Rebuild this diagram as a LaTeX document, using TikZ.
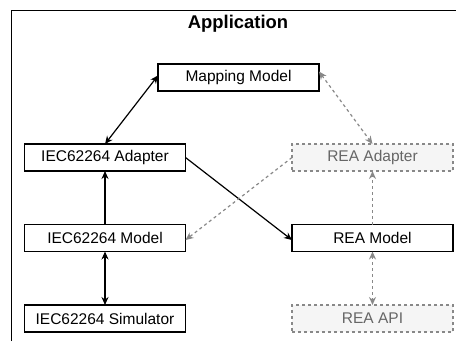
\documentclass[tikz,border=0pt]{standalone}
\usepackage{fontspec}
\setmainfont{Liberation Sans}
\usetikzlibrary{arrows.meta}
\definecolor{ghostline}{HTML}{888888}
\definecolor{ghosttext}{HTML}{666666}
\definecolor{ghostfill}{HTML}{F5F5F5}
\begin{document}
\begin{tikzpicture}[x=1pt,y=-1pt,inner sep=0pt,outer sep=0pt,
  box/.style={draw,line width=1.2pt,minimum width=161pt,minimum height=27pt,font=\fontsize{15.5}{18}\selectfont},
  ghost/.style={box,draw=ghostline,dash pattern=on 3pt off 3pt,fill=ghostfill,text=ghosttext},
  link/.style={line width=1.2pt,{Stealth[length=8pt,width=7pt]}-{Stealth[length=8pt,width=7pt]}},
  onelink/.style={line width=1.2pt,-{Stealth[length=8pt,width=7pt]}},
  ghostlink/.style={link,draw=ghostline,dash pattern=on 3pt off 3pt},
  ghostone/.style={onelink,draw=ghostline,dash pattern=on 3pt off 3pt}]
\useasboundingbox (0,0) rectangle (456,341);
\draw[line width=1.5pt] (11.5,341) -- (11.5,10.5) -- (456,10.5);
\node (title) at (238,24) {\fontsize{18.4}{22}\selectfont\bfseries Application};
% left column
\node[box] (map) at (238.5,77.5) {Mapping Model};
\node[box] (iecad) at (105,157.5) {IEC62264 Adapter};
\node[box] (iecmod) at (105,238) {IEC62264 Model};
\node[box] (iecsim) at (105,318.5) {IEC62264 Simulator};
% right column
\node[ghost] (reaad) at (372.5,157.5) {REA Adapter};
\node[box] (reamod) at (372.5,238) {REA Model};
\node[ghost] (reaapi) at (372.5,318.5) {REA API};
% connectors
\draw[link] ([yshift=2pt]map.west) -- (iecad.north);
\draw[ghostlink] ([yshift=6pt]map.east) -- (reaad.north);
\draw[onelink] (iecmod.north) -- (iecad.south);
\draw[link] (iecmod.south) -- (iecsim.north);
\draw[onelink] (iecad.east) -- ([yshift=-2pt]reamod.west);
\draw[ghostone] (reaad.west) -- ([yshift=-2pt]iecmod.east);
\draw[ghostone] (reamod.north) -- (reaad.south);
\draw[ghostlink] (reamod.south) -- (reaapi.north);
\end{tikzpicture}
\end{document}
